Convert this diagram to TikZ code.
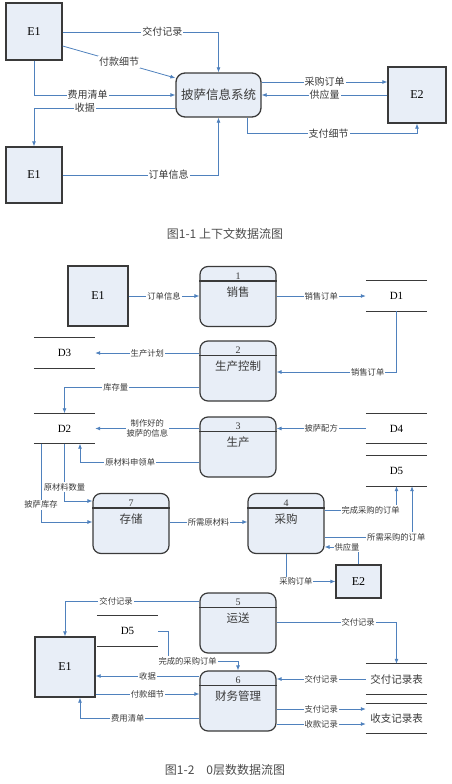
\documentclass[tikz,border=0pt]{standalone}
\usepackage{fontspec}
\setmainfont{Liberation Serif}
\newfontfamily\cjk{Noto Sans CJK SC}
\usetikzlibrary{arrows.meta}
\definecolor{boxfill}{HTML}{E8EEF7}
\definecolor{flowblue}{HTML}{4F81BD}
\definecolor{inkgray}{HTML}{3A3A3A}

\tikzset{
  entity/.style={draw=inkgray, line width=1.3pt, fill=boxfill, font=\fontsize{12}{12}\selectfont},
  sysbox/.style={draw=inkgray, line width=1.3pt, fill=boxfill, rounded corners=9pt,
    minimum width=85pt, minimum height=44pt, text=inkgray, font=\cjk\fontsize{12.5}{13}\selectfont},
  procbox/.style={draw=inkgray, line width=1.2pt, fill=boxfill, rounded corners=8pt,
    minimum width=76pt, minimum height=60pt},
  store/.style={minimum width=61pt, minimum height=30pt, inner sep=0pt, font=\fontsize{11}{11}\selectfont},
  storeline/.style={draw=inkgray, line width=1.1pt},
  flow/.style={draw=flowblue, line width=0.8pt, -{Latex[length=5pt,width=4pt]}},
  lbl/.style={fill=white, inner sep=1pt, text=inkgray, font=\cjk\fontsize{8.3}{9.5}\selectfont},
  biglbl/.style={lbl, font=\cjk\fontsize{10}{11}\selectfont},
  caption/.style={text=black!70, font=\cjk\fontsize{12}{12}\selectfont}
}

% process box: name, centre, number, title
\newcommand{\dfdproc}[4]{%
  \node[procbox] (#1) at (#2) {};
  \draw[line width=1.2pt, draw=inkgray] ([yshift=-15pt]#1.north west) -- ([yshift=-15pt]#1.north east);
  \node[text=inkgray, font=\fontsize{10}{10}\selectfont] (#1n) at ([yshift=-10pt]#1.north) {#3};
  \node[text=inkgray, font=\cjk\fontsize{11.5}{12}\selectfont] (#1t) at ([yshift=-26pt]#1.north) {#4};
}

\begin{document}
\begin{tikzpicture}[x=1pt, y=-1pt]
    \useasboundingbox (0,0) rectangle (452,784);

    % Context diagram
    \node[entity, minimum width=56pt, minimum height=57pt] (e1a) at (34,31.5) {E1};
    \node[entity, minimum width=56pt, minimum height=56pt] (e1b) at (34,175) {E1};
    \node[entity, minimum width=58pt, minimum height=56pt] (e2a) at (417,95) {E2};
    \node[sysbox] (sys) at (218.5,95) {披萨信息系统};

    \draw[flow] (e1a.east |- 0,32) -| node[biglbl, pos=0.32] {交付记录} (sys.north);
    \draw[flow] (e1a.east |- 0,46) -- node[biglbl] {付款细节} (sys.west |- 0,78);
    \draw[flow] (e1a.south) |- node[biglbl, pos=0.69] {费用清单} (sys.west |- 0,95);
    \draw[flow] (sys.west |- 0,108) -| node[biglbl, pos=0.32] {收据} (e1b.north);
    \draw[flow] (e1b.east) -| node[biglbl, pos=0.34] {订单信息} (sys.south);
    \draw[flow] (sys.east |- 0,82) -- node[biglbl] {采购订单} (e2a.west |- 0,82);
    \draw[flow] (e2a.west |- 0,95) -- node[biglbl] {供应量} (sys.east |- 0,95);
    \draw[flow] (sys.south -| 247,0) -- ++(0,16) -| node[biglbl, pos=0.24] {支付细节} (e2a.south);

    \node[caption] (cap1) at (225,234) {图1-1 上下文数据流图};

    % Level-0 diagram
    \node[entity, minimum width=60pt, minimum height=60pt] (e1c) at (98,296) {E1};
    \node[entity, minimum width=45pt, minimum height=33pt] (e2b) at (358.5,581.5) {E2};
    \node[entity, minimum width=60pt, minimum height=60pt] (e1d) at (65,667) {E1};

    \dfdproc{p1}{238,296.5}{1}{销售}
    \dfdproc{p2}{238,371}{2}{生产控制}
    \dfdproc{p3}{238,447}{3}{生产}
    \dfdproc{p7}{131,523.5}{7}{存储}
    \dfdproc{p4}{286,523.5}{4}{采购}
    \dfdproc{p5}{238,623}{5}{运送}
    \dfdproc{p6}{238,701}{6}{财务管理}

    \node[store] (d1) at (396.5,296) {D1};
    \node[store] (d3) at (64.5,353) {D3};
    \node[store] (d2) at (64.5,428.5) {D2};
    \node[store] (d4) at (396.5,428.5) {D4};
    \node[store] (d5) at (396.5,471) {D5};
    \node[store] (d5b) at (127.5,631) {D5};
    \node[store, font=\cjk\fontsize{10.5}{11}\selectfont, text=inkgray] (t1) at (396.5,679) {交付记录表};
    \node[store, font=\cjk\fontsize{10.5}{11}\selectfont, text=inkgray] (t2) at (396.5,718.5) {收支记录表};
    \foreach \s in {d1,d2,d3,d4,d5,d5b,t1,t2}
        \draw[storeline] (\s.north west) -- (\s.north east) (\s.south west) -- (\s.south east);

    \draw[flow] (e1c.east) -- node[lbl] {订单信息} (p1.west |- e1c.east);
    \draw[flow] (p1.east |- d1.west) -- node[lbl] {销售订单} (d1.west);
    \draw[flow] (p2.west |- 0,353) -- node[lbl] {生产计划} (d3.east |- 0,353);
    \draw[flow] (d1.south) |- node[lbl, pos=0.62] {销售订单} (p2.east |- 0,372);
    \draw[flow] (p2.west |- 0,387) -| node[lbl, pos=0.31] {库存量} (d2.north);
    \draw[flow] (p3.west |- d2.east) -- node[lbl, align=center] {制作好的\\披萨的信息} (d2.east);
    \draw[flow] (d4.west) -- node[lbl] {披萨配方} (p3.east |- d4.west);
    \draw[flow] (p3.west |- 0,462) -| node[lbl, pos=0.29] {原材料申领单} (d2.south -| 80,0);
    \draw[flow] (d2.south) |- node[lbl, pos=0.38] {原材料数量} (p7.west |- 0,501);
    \draw[flow] (d2.south -| 41,0) |- node[lbl, pos=0.39] {披萨库存} (p7.west |- 0,522);
    \draw[flow] (p7.east |- 0,522) -- node[lbl] {所需原材料} (p4.west |- 0,522);
    \draw[flow] (p4.east |- 0,510) -| node[lbl, pos=0.32] {完成采购的订单} (d5.south);
    \draw[flow] (p4.east |- 0,537) -| node[lbl, pos=0.41] {所需采购的订单} (d5.south -| 412,0);
    \draw[flow] (e2b.north) |- node[lbl, pos=0.67] {供应量} (p4.east |- 0,547);
    \draw[flow] (p4.south -| 286,0) |- node[lbl, pos=0.6] {采购订单} (e2b.west);
    \draw[flow] (p5.west |- 0,601) -| node[lbl, pos=0.31] {交付记录} (e1d.north);
    \draw[flow] (p5.east |- 0,622) -| node[lbl, pos=0.34] {交付记录} (t1.north);
    \draw[flow] (d5b.east) -| (168,661) -| node[lbl, pos=0.14] {完成的采购订单} (p6.north);
    \draw[flow] (p6.west |- 0,676) -- node[lbl] {收据} (e1d.east |- 0,676);
    \draw[flow] (e1d.east |- 0,694) -- node[lbl] {付款细节} (p6.west |- 0,694);
    \draw[flow] (p6.west |- 0,718) -| node[lbl, pos=0.3] {费用清单} (e1d.south -| 80,0);
    \draw[flow] (t1.west) -- node[lbl] {交付记录} (p6.east |- t1.west);
    \draw[flow] (p6.east |- 0,709) -- node[lbl] {支付记录} (t2.west |- 0,709);
    \draw[flow] (p6.east |- 0,724) -- node[lbl] {收款记录} (t2.west |- 0,724);

    \node[caption] (cap2) at (225,770) {图1-2\quad 0层数数据流图};
\end{tikzpicture}
\end{document}
